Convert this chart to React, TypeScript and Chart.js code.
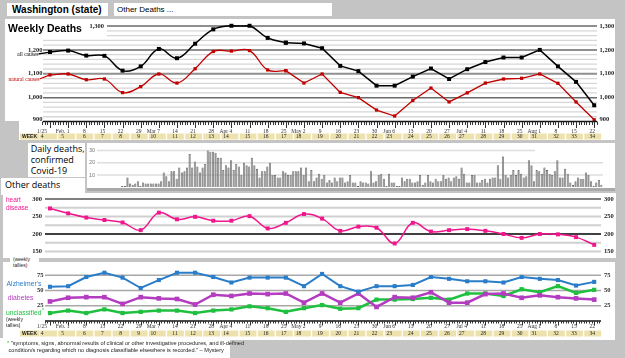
import React, { useEffect, useRef } from "react";
import { Chart, registerables } from "chart.js";
Chart.register(...registerables);

// ---------------- DATA ----------------
const weekDates = ["1/25","Feb. 1","8","15","22","29","Mar 7","14","21","28","Apr 4","11","18","25","May 2","9","16","23","30","Jun 6","13","20","27","Jul 4","11","18","25","Aug 1","8","15","22"];
const weekNumbers = [4,5,6,7,8,9,10,11,12,13,14,15,16,17,18,19,20,21,22,23,24,25,26,27,28,29,30,31,32,33,34];

const allCauses = [1191,1197,1176,1175,1113,1131,1204,1165,1226,1286,1301,1301,1250,1230,1227,1207,1133,1111,1050,1050,1088,1122,1078,1119,1149,1168,1168,1200,1131,1066,968];
const naturalCauses = [1095,1099,1075,1078,1021,1046,1099,1061,1121,1193,1195,1197,1116,1113,1061,1099,1022,1000,948,923,988,1040,982,1020,1061,1078,1081,1099,1060,982,907];
const weeklyTicks = [900,1000,1100,1200,1300];

const dailyCovidDeaths = [
  1,1,8,3,2,3,5,1,4,3,3,3,3,3,3,5,12,9,5,13,13,7,16,12,13,16,27,16,21,17,12,16,19,30,29,29,28,24,24,14,18,16,22,
  14,19,17,10,20,18,17,24,18,15,8,13,13,17,20,10,10,8,8,13,12,10,10,13,13,13,16,10,16,5,14,5,8,11,7,10,4,6,4,8,5,8,8,4,5,10,4,
  4,1,5,4,4,3,13,4,5,10,11,7,1,11,4,4,1,1,8,5,7,7,4,4,5,10,2,4,10,5,4,7,5,5,10,7,8,5,8,9,7,16,11,4,4,10,
  10,4,4,6,7,4,7,8,8,18,7,25,10,8,10,14,10,14,11,8,9,22,18,5,14,13,11,16,14,11,10,13,22,8,8,15,11,4,2,5,8,7,7,12,10,5,1,4,6,2
];
const dailyTicks = [10,20,30];

const heartDisease = [273,259,247,240,233,211,261,242,249,238,238,251,216,232,257,244,209,221,218,173,232,207,211,214,209,200,189,200,199,191,169];
const heartTicks = [150,200,250,300];

const alzheimers = [56,57,72,79,71,54,67,79,79,72,63,71,71,71,57,77,57,48,57,57,59,72,69,65,65,63,72,69,67,58,64];
const diabetes = [32,38,39,39,28,39,37,36,27,43,41,45,44,45,30,45,30,45,23,39,38,47,30,30,44,45,38,42,39,37,35];
const unclassified = [13,17,13,19,13,15,17,17,13,17,19,24,21,15,21,26,20,21,35,35,36,38,35,45,45,41,52,47,57,46,51];
const otherTicks = [25,50,75];

// ---------------- LAYOUT ----------------
const PX0 = 50;      // page x of first week
const PXW = 18.14;   // page px per week
const xv = (pageX: number) => (pageX - PX0) / PXW;

type Box = { left: number; top: number; width: number; height: number };
type Area = { left: number; right: number; top: number; bottom: number };
const pad = (c: Box, a: Area) => ({
  left: a.left - c.left,
  right: c.left + c.width - a.right,
  top: a.top - c.top,
  bottom: c.top + c.height - a.bottom,
});

const BLACK = "#000000";
const RED = "#c00000";
const PINK = "#f0168c";
const BLUE = "#2a7dc8";
const PURPLE = "#b43cc0";
const GREEN = "#1fbf3f";

const pts = (arr: number[], from = 0, to = arr.length - 1) =>
  arr.slice(from, to + 1).map((y, k) => ({ x: from + k, y }));

function lineDs(data: any[], color: string, width: number, r: number, tension: number) {
  return {
    type: "line",
    data,
    borderColor: color,
    backgroundColor: color,
    borderWidth: width,
    pointStyle: "rect",
    pointRadius: r,
    pointBorderWidth: 0,
    pointBackgroundColor: color,
    tension,
    fill: false,
    clip: false,
  };
}

function hline(ctx: CanvasRenderingContext2D, x0: number, x1: number, y: number) {
  ctx.beginPath();
  ctx.moveTo(x0, y);
  ctx.lineTo(x1, y);
  ctx.stroke();
}

const fmt = (v: number) => v.toLocaleString("en-US");

function labelShift(i: number, lab: string) {
  if (i === 0) return -8;
  if (/[A-Za-z]/.test(lab)) return -5.5;
  return -2;
}

function drawWeekAxis(chart: any, ox: number, o: { majorLen: number; minorLen: number; labelDy: number; weekTop: number; weekH: number }) {
  const ctx: CanvasRenderingContext2D = chart.ctx;
  const xs = chart.scales.x;
  const { left, right, bottom } = chart.chartArea;
  ctx.save();
  ctx.strokeStyle = "#111";
  ctx.lineWidth = 1.5;
  hline(ctx, left, right, bottom);
  ctx.lineWidth = 1;
  ctx.strokeStyle = "#333";
  for (let d = -7; d <= weekDates.length * 7; d++) {
    const x = Math.round(xs.getPixelForValue(d / 7)) + 0.5;
    if (x < left - 0.5 || x > right + 0.5) continue;
    const len = d % 7 === 0 ? o.majorLen : o.minorLen;
    ctx.beginPath();
    ctx.moveTo(x, bottom);
    ctx.lineTo(x, bottom + len);
    ctx.stroke();
  }
  // week boxes
  const wy = bottom + o.weekTop;
  ctx.fillStyle = "#ede2ae";
  ctx.fillRect(20 - ox, wy, 19.5, o.weekH);
  weekNumbers.forEach((_, i) => {
    const cx = xs.getPixelForValue(i) - 1.5;
    ctx.fillRect(cx - 8.4, wy, 16.8, o.weekH);
  });
  ctx.fillStyle = "#222";
  ctx.textBaseline = "middle";
  ctx.textAlign = "center";
  ctx.font = 'bold 5px "Liberation Sans"';
  ctx.fillText("WEEK", 29.5 - ox, wy + o.weekH / 2 + 0.3);
  ctx.font = '5.5px "Liberation Serif"';
  weekNumbers.forEach((w, i) => {
    ctx.fillText(String(w), xs.getPixelForValue(i) + labelShift(i, weekDates[i]), wy + o.weekH / 2 + 0.3);
  });
  // date labels
  ctx.fillStyle = "#333";
  weekDates.forEach((lab, i) => {
    ctx.fillText(lab, xs.getPixelForValue(i) + labelShift(i, lab), bottom + o.labelDy);
  });
  ctx.restore();
}

const baseOptions = (padding: any, scales: any) => ({
  responsive: false,
  maintainAspectRatio: false,
  devicePixelRatio: 1,
  animation: false,
  layout: { padding },
  events: [],
  scales,
  plugins: { legend: { display: false }, tooltip: { enabled: false } },
});

// ---------------- CHART BOXES ----------------
const WK_C: Box = { left: 5, top: 19, width: 610, height: 122 };
const WK_A: Area = { left: 43, right: 597, top: 26, bottom: 121.5 };

const DY_C: Box = { left: 87, top: 143, width: 528, height: 45 };
const DY_A: Area = { left: 121, right: 602.7, top: 187.3 - 35 * 1.23, bottom: 187.3 };

const HT_C: Box = { left: 3, top: 193, width: 613, height: 65 };
const HT_A: Area = { left: 45, right: 601, top: 199, bottom: 251.5 };

const OT_C: Box = { left: 3, top: 262, width: 612, height: 78 };
const OT_A: Area = { left: 45, right: 601, top: 321 - 90 * 0.613, bottom: 321 };

function makeWeekly(canvas: HTMLCanvasElement) {
  const ox = WK_C.left, oy = WK_C.top;
  const plugin = {
    id: "weeklyDecor",
    beforeDatasetsDraw(chart: any) {
      const ctx: CanvasRenderingContext2D = chart.ctx;
      const a = chart.chartArea;
      const y = chart.scales.y;
      ctx.save();
      for (let v = 920; v <= 1300; v += 20) {
        const py = y.getPixelForValue(v);
        const major = v % 100 === 0;
        ctx.strokeStyle = v === 1000 ? "#6a6a6a" : major ? "#8f8f8f" : "#d6d6d6";
        ctx.lineWidth = v === 1000 ? 1.5 : major ? 2 : 1.3;
        const x0 = py + oy < 38 ? 107 - ox : a.left;
        hline(ctx, x0, a.right, py);
      }
      ctx.restore();
    },
    afterDraw(chart: any) {
      const ctx: CanvasRenderingContext2D = chart.ctx;
      const y = chart.scales.y;
      const xs = chart.scales.x;
      ctx.save();
      ctx.font = 'bold 6.5px "Liberation Serif"';
      ctx.fillStyle = "#222";
      ctx.textBaseline = "middle";
      weeklyTicks.forEach((v) => {
        const py = y.getPixelForValue(v) - (v === 900 ? 2.5 : 0);
        ctx.textAlign = "right";
        ctx.fillText(fmt(v), (v === 1300 ? 104 : 42.5) - ox, py);
        ctx.textAlign = "left";
        ctx.fillText(fmt(v), 599.5 - ox, py);
      });
      // series labels + connectors
      ctx.font = '5.5px "Liberation Serif"';
      ctx.textAlign = "right";
      ctx.fillStyle = BLACK;
      ctx.fillText("all causes", 38.5 - ox, 55 - oy);
      ctx.fillStyle = RED;
      ctx.fillText("natural causes", 39.5 - ox, 79.5 - oy);
      ctx.lineWidth = 1.3;
      ctx.strokeStyle = BLACK;
      ctx.beginPath();
      ctx.moveTo(38.5 - ox, 54 - oy);
      ctx.lineTo(xs.getPixelForValue(0), y.getPixelForValue(allCauses[0]));
      ctx.stroke();
      ctx.strokeStyle = RED;
      ctx.beginPath();
      ctx.moveTo(39.5 - ox, 79 - oy);
      ctx.lineTo(xs.getPixelForValue(0), y.getPixelForValue(naturalCauses[0]));
      ctx.stroke();
      ctx.restore();
      drawWeekAxis(chart, ox, { majorLen: 6.5, minorLen: 3.5, labelDy: 9.7, weekTop: 12, weekH: 6 });
    },
  };
  const split = 13;
  return new Chart(canvas, {
    type: "line",
    data: {
      datasets: [
        lineDs(pts(allCauses, 0, split), BLACK, 1.5, 2.8, 0.4),
        lineDs(pts(allCauses, split), BLACK, 1.5, 2.8, 0),
        lineDs(pts(naturalCauses, 0, split), RED, 1.3, 2.3, 0.4),
        lineDs(pts(naturalCauses, split), RED, 1.3, 2.3, 0),
      ] as any,
    },
    options: baseOptions(pad(WK_C, WK_A), {
      x: { type: "linear", display: false, min: xv(WK_A.left), max: xv(WK_A.right) },
      y: { display: false, min: 900, max: 1300 },
    }) as any,
    plugins: [plugin],
  });
}

function makeDaily(canvas: HTMLCanvasElement) {
  const ox = DY_C.left;
  const plugin = {
    id: "dailyDecor",
    beforeDatasetsDraw(chart: any) {
      const ctx: CanvasRenderingContext2D = chart.ctx;
      const y = chart.scales.y;
      ctx.save();
      ctx.strokeStyle = "#dedede";
      ctx.lineWidth = 1.5;
      dailyTicks.forEach((v) => {
        const py = y.getPixelForValue(v);
        hline(ctx, 97 - ox, (v === 30 ? 535 : 603) - ox, py);
      });
      ctx.font = '5.5px "Liberation Sans"';
      ctx.fillStyle = "#777";
      ctx.textAlign = "right";
      ctx.textBaseline = "middle";
      dailyTicks.forEach((v) => ctx.fillText(String(v), 95 - ox, y.getPixelForValue(v)));
      ctx.restore();
    },
  };
  return new Chart(canvas, {
    type: "bar",
    data: {
      labels: dailyCovidDeaths.map((_, i) => String(i)),
      datasets: [
        {
          data: dailyCovidDeaths,
          backgroundColor: "#8e8e8e",
          borderColor: "#4a4a4a",
          borderWidth: 0.6,
          barPercentage: 0.82,
          categoryPercentage: 1,
        },
      ],
    },
    options: baseOptions(pad(DY_C, DY_A), {
      x: { display: false },
      y: { display: false, min: 0, max: 35 },
    }) as any,
    plugins: [plugin],
  });
}

function makeHeart(canvas: HTMLCanvasElement) {
  const ox = HT_C.left, oy = HT_C.top;
  const plugin = {
    id: "heartDecor",
    beforeDatasetsDraw(chart: any) {
      const ctx: CanvasRenderingContext2D = chart.ctx;
      const a = chart.chartArea;
      const y = chart.scales.y;
      ctx.save();
      for (let v = 150; v <= 300; v += 25) {
        const py = y.getPixelForValue(v);
        ctx.strokeStyle = v === 200 ? "#000" : v === 300 ? "#555" : "#d0d0d0";
        ctx.lineWidth = v === 200 ? 1.7 : v === 300 ? 1.3 : 1.8;
        hline(ctx, a.left, a.right, py);
      }
      ctx.restore();
    },
    afterDraw(chart: any) {
      const ctx: CanvasRenderingContext2D = chart.ctx;
      const y = chart.scales.y;
      ctx.save();
      ctx.font = 'bold 6.5px "Liberation Serif"';
      ctx.fillStyle = "#222";
      ctx.textBaseline = "middle";
      heartTicks.forEach((v) => {
        const py = y.getPixelForValue(v);
        ctx.textAlign = "right";
        ctx.fillText(String(v), 42 - ox, py);
        ctx.textAlign = "left";
        ctx.fillText(String(v), 604 - ox, py);
      });
      ctx.font = '6.5px "Liberation Sans"';
      ctx.fillStyle = PINK;
      ctx.textAlign = "left";
      ctx.fillText("heart", 6 - ox, 200.7 - oy);
      ctx.fillText("disease", 6 - ox, 208.3 - oy);
      ctx.restore();
    },
  };
  return new Chart(canvas, {
    type: "line",
    data: { datasets: [lineDs(pts(heartDisease), PINK, 1.5, 2.8, 0.4)] as any },
    options: baseOptions(pad(HT_C, HT_A), {
      x: { type: "linear", display: false, min: xv(HT_A.left), max: xv(HT_A.right) },
      y: { display: false, min: 150, max: 300 },
    }) as any,
    plugins: [plugin],
  });
}

function makeOther(canvas: HTMLCanvasElement) {
  const ox = OT_C.left, oy = OT_C.top;
  const plugin = {
    id: "otherDecor",
    beforeDatasetsDraw(chart: any) {
      const ctx: CanvasRenderingContext2D = chart.ctx;
      const a = chart.chartArea;
      const y = chart.scales.y;
      ctx.save();
      ctx.strokeStyle = "#a8a8a8";
      ctx.lineWidth = 1.5;
      otherTicks.forEach((v) => hline(ctx, a.left, a.right, y.getPixelForValue(v)));
      ctx.restore();
    },
    afterDraw(chart: any) {
      const ctx: CanvasRenderingContext2D = chart.ctx;
      const y = chart.scales.y;
      ctx.save();
      ctx.font = 'bold 6.5px "Liberation Serif"';
      ctx.fillStyle = "#333";
      ctx.textBaseline = "middle";
      otherTicks.forEach((v) => {
        const py = y.getPixelForValue(v);
        ctx.textAlign = "right";
        ctx.fillText(String(v), 43.5 - ox, py);
        ctx.textAlign = "left";
        ctx.fillText(String(v), 604 - ox, py);
      });
      ctx.font = '6.8px "Liberation Sans"';
      ctx.textAlign = "right";
      ctx.fillStyle = BLUE;
      ctx.fillText("Alzheimer's", 41.5 - ox, 284 - oy);
      ctx.fillStyle = PURPLE;
      ctx.fillText("diabetes", 33.5 - ox, 298 - oy);
      ctx.textAlign = "left";
      ctx.fillStyle = GREEN;
      ctx.fillText("unclassified", 6 - ox, 313 - oy);
      const w = ctx.measureText("unclassified").width;
      ctx.font = '5px "Liberation Sans"';
      ctx.fillText("*", 6.5 + w - ox, 311 - oy);
      ctx.fillStyle = "#222";
      ctx.font = '5px "Liberation Sans"';
      ctx.fillText("(weekly", 6 - ox, 319.5 - oy);
      ctx.fillText("tallies)", 6 - ox, 325.5 - oy);
      ctx.restore();
      drawWeekAxis(chart, ox, { majorLen: 4.5, minorLen: 2.5, labelDy: 6, weekTop: 9.5, weekH: 6 });
    },
  };
  return new Chart(canvas, {
    type: "line",
    data: {
      datasets: [
        lineDs(pts(alzheimers), BLUE, 2, 2.9, 0),
        lineDs(pts(diabetes), PURPLE, 2.5, 3.3, 0),
        lineDs(pts(unclassified), GREEN, 2.5, 3, 0),
      ] as any,
    },
    options: baseOptions(pad(OT_C, OT_A), {
      x: { type: "linear", display: false, min: xv(OT_A.left), max: xv(OT_A.right) },
      y: { display: false, min: 0, max: 90 },
    }) as any,
    plugins: [plugin],
  });
}

function ChartBox({ box, make }: { box: Box; make: (c: HTMLCanvasElement) => Chart }) {
  const ref = useRef<HTMLCanvasElement>(null);
  useEffect(() => {
    const chart = make(ref.current!);
    return () => chart.destroy();
  }, []);
  return (
    <canvas
      ref={ref}
      width={box.width}
      height={box.height}
      style={{ position: "absolute", left: box.left, top: box.top, width: box.width, height: box.height }}
    />
  );
}

const abs = (left: number, top: number, width: number, height: number, extra: any = {}) => ({
  position: "absolute" as const,
  left,
  top,
  width,
  height,
  ...extra,
});

export default function App() {
  useEffect(() => {
    document.body.style.margin = "0";
  }, []);
  const sans = '"Liberation Sans", Arial, sans-serif';
  const open = '"Open Sans", "Noto Sans", sans-serif';
  return (
    <div style={{ position: "fixed", left: 0, top: 0, width: 625, height: 358, background: "#c4c4c4", overflow: "hidden", fontFamily: sans }}>
      {/* header boxes */}
      <div style={abs(7, 3, 101, 13, { background: "#fff", font: `bold 10px ${sans}`, lineHeight: "13px", paddingLeft: 5, boxSizing: "border-box", whiteSpace: "nowrap" })}>
        Washington (state)
      </div>
      <div style={abs(114, 3, 218, 13, { background: "#fff", font: `8px ${sans}`, lineHeight: "13px", paddingLeft: 3, boxSizing: "border-box", whiteSpace: "nowrap" })}>
        Other Deaths ...
      </div>

      {/* weekly panel background */}
      <div style={abs(5, 19, 610, 102, { background: "#fff" })} />
      <div style={abs(19, 121, 596, 19, { background: "#fff" })} />
      <ChartBox box={WK_C} make={makeWeekly} />
      <div style={abs(8, 22, 90, 13, { font: `bold 10.5px ${sans}`, lineHeight: "13px", whiteSpace: "nowrap" })}>Weekly Deaths</div>

      {/* daily covid panel */}
      <div style={abs(28, 143, 57, 34, { background: "#fff", font: `9px ${open}`, lineHeight: "11px", paddingLeft: 2.7, paddingTop: 0, boxSizing: "border-box", whiteSpace: "nowrap" })}>
        Daily deaths,<br />confirmed<br />Covid-19
      </div>
      <div style={abs(87, 143, 528, 45, { background: "#fff" })} />
      <div style={abs(87, 188, 528, 2.5, { background: "#a9a9a9" })} />
      <ChartBox box={DY_C} make={makeDaily} />

      {/* other deaths */}
      <div style={abs(3, 193, 613, 65, { background: "#fff" })} />
      <div style={abs(1, 177.5, 84, 17, { background: "#fff", font: `9px ${open}`, lineHeight: "14px", paddingLeft: 4, boxSizing: "border-box", whiteSpace: "nowrap" })}>
        Other deaths
      </div>
      <ChartBox box={HT_C} make={makeHeart} />
      <div style={abs(3, 262, 612, 78, { background: "#fff" })} />
      <div style={abs(10, 255, 29, 13, { background: "#fff", font: `5px ${sans}`, lineHeight: "6px", paddingLeft: 3, paddingTop: 1, boxSizing: "border-box", whiteSpace: "nowrap", color: "#222" })}>
        (weekly<br />tallies)
      </div>
      <ChartBox box={OT_C} make={makeOther} />

      {/* footnote */}
      <div style={abs(0, 338, 230, 20, { background: "#fff", font: `5.6px ${sans}`, lineHeight: "7px", paddingLeft: 7, paddingTop: 1.5, boxSizing: "border-box", whiteSpace: "nowrap", color: "#222" })}>
        <span style={{ color: GREEN }}>*</span> "symptoms, signs, abnormal results of clinical or other investigative procedures, and ill-defined
        <br />
        &nbsp;condition/s regarding which no diagnosis classifiable elsewhere is recorded." – Mystery
      </div>
    </div>
  );
}
